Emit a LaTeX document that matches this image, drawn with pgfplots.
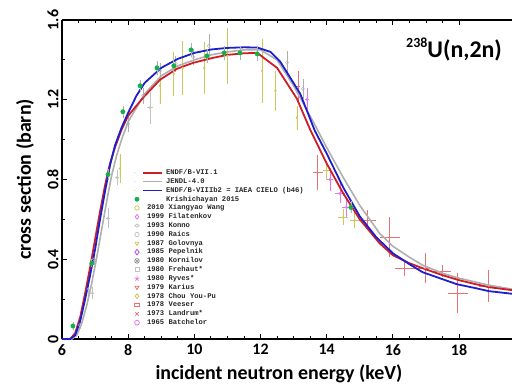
\documentclass[border=0pt]{standalone}
\usepackage{fontspec}
\setmainfont{Carlito}
\newfontfamily\legfont{Liberation Mono}
\usepackage{pgfplots}
\pgfplotsset{compat=1.18}
\usetikzlibrary{plotmarks}
\definecolor{cRed}{RGB}{205,30,40}
\definecolor{cBlue}{RGB}{30,30,205}
\definecolor{cGrey}{RGB}{175,175,175}
\definecolor{cGreen}{RGB}{20,175,70}
\definecolor{cOlive}{RGB}{205,200,90}
\definecolor{cPink}{RGB}{225,120,235}
\definecolor{cViolet}{RGB}{190,80,215}
\definecolor{cLRed}{RGB}{230,115,115}
\definecolor{cLGrey}{RGB}{195,195,195}
\pgfplotsset{
 marklegend/.style={legend image code/.code={\path[draw=none,fill=none] (-3bp,-4.41bp) rectangle (10bp,4.41bp); \draw[##1] plot coordinates {(0bp,0bp)};}},
 linelegend/.style={legend image code/.code={\path[draw=none,fill=none] (-3bp,-4.41bp) rectangle (10bp,4.41bp); \fill[black!25,draw=none] (-2bp,0bp) circle (0.5bp); \draw[overlay,##1] (6bp,0bp) -- (25bp,0bp);}},
}
\begin{document}
\begin{tikzpicture}
\begin{axis}[
 scale only axis, width=450bp, height=319bp,
 xmin=6, xmax=19.6, ymin=0, ymax=1.6,
 axis x line=box, axis y line=left, axis line style={-, line width=1.1bp},
 xtick={6,8,10,12,14,16,18}, minor x tick num=3,
 ytick={0,0.4,0.8,1.2,1.6}, yticklabels={0,0.4,0.8,1.2,1.6}, minor y tick num=1,
 tick align=inside, major tick length=5bp, minor tick length=3bp,
 tick style={black, line width=0.8bp},
 /pgf/number format/assume math mode=true,
 tick label style={font=\fontsize{16}{16}\selectfont\bfseries},
 xticklabel style={yshift=-2bp},
 yticklabel style={rotate=90, anchor=south},
 xlabel={incident neutron energy (keV)},
 ylabel={cross section (barn)},
 xlabel style={at={(rel axis cs:0.482,-0.1285)}, anchor=base, font=\fontsize{20}{20}\selectfont\bfseries},
 ylabel style={at={(rel axis cs:-0.0822,0.5)}, anchor=center, font=\fontsize{20}{20}\selectfont\bfseries},
 clip=true,
 marklegend,
 legend cell align=left,
 legend style={at={(rel axis cs:0.16,0.535)}, anchor=north west, draw=none, fill=none,
   inner sep=0pt, outer sep=0pt, row sep=0pt, column sep=0pt, nodes={inner sep=0pt, text=black!85},
   font=\legfont\bfseries\fontsize{7.2}{8}\selectfont},
]
% --- experimental data ---
\addplot[forget plot, only marks, mark=o, mark size=1.4bp, draw=cLGrey,
  error bars/.cd, y dir=both, y explicit, x dir=both, x explicit, error mark=none,
  error bar style={cLGrey, line width=0.7bp}]
  table[x=x, y=y, x error=ex, y error=ey] {
x y ex ey
6.54 0.07 0.06 0.02
6.79 0.25 0.06 0.03
6.92 0.23 0.06 0.03
7.39 0.605 0.06 0.05
7.67 0.81 0.06 0.04
8.66 1.16 0.1 0.08
};
\addplot[forget plot, only marks, mark=*, mark size=1.0bp, draw=cOlive, fill=cOlive,
  error bars/.cd, y dir=both, y explicit, x dir=both, x explicit, error mark=none,
  error bar style={cOlive, line width=0.8bp}]
  table[x=x, y=y, x error=ex, y error=ey] {
x y ex ey
7.75 0.855 0 0.075
8.96 1.27 0 0.09
9.38 1.33 0 0.11
9.65 1.36 0 0.135
10.3 1.36 0 0.13
11.0 1.42 0 0.14
12.05 1.345 0 0.16
12.45 1.245 0 0.1
13.1 1.11 0 0.06
14.0 0.845 0.1 0.05
14.5 0.61 0.15 0.04
14.85 0.595 0.15 0.04
};
\addplot[forget plot, only marks, mark=o, mark size=1.6bp, draw=cGrey,
  error bars/.cd, y dir=both, y explicit, x dir=both, x explicit, error mark=none,
  error bar style={cGrey, line width=0.7bp}]
  table[x=x, y=y, x error=ex, y error=ey] {
x y ex ey
6.97 0.40 0 0.03
8.0 1.08 0 0.04
8.45 1.22 0 0.04
8.96 1.345 0 0.04
9.44 1.38 0 0.04
9.96 1.415 0 0.04
10.44 1.47 0 0.06
12.8 1.385 0 0.06
13.28 1.255 0 0.05
};
\addplot[forget plot, only marks, mark=diamond, mark size=1.6bp, draw=cPink,
  error bars/.cd, y dir=both, y explicit, x dir=both, x explicit, error mark=none,
  error bar style={cPink, line width=0.7bp}]
  table[x=x, y=y, x error=ex, y error=ey] {
x y ex ey
13.4 1.2 0.05 0.06
14.1 0.80 0.1 0.06
14.4 0.73 0.15 0.05
14.6 0.66 0.15 0.05
};
\addplot[forget plot, only marks, mark=-, mark size=1.2bp, draw=cLRed,
  error bars/.cd, y dir=both, y explicit, x dir=both, x explicit, error mark=none,
  error bar style={cLRed, line width=0.7bp}]
  table[x=x, y=y, x error=ex, y error=ey] {
x y ex ey
13.15 1.27 0 0.075
13.73 0.835 0.15 0.09
15.24 0.595 0.25 0.05
15.9 0.51 0.3 0.1
16.36 0.355 0.3 0.04
16.97 0.355 0.2 0.075
17.5 0.34 0.25 0.03
17.96 0.23 0.3 0.1
18.9 0.265 0.3 0.08
};
% --- evaluations ---
\addplot[forget plot, cGrey, line width=1.6bp] coordinates {
(6.0,0) (6.3,0) (6.45,0.02) (6.6,0.08) (6.75,0.17) (6.9,0.28) (7.05,0.41) (7.2,0.55) (7.35,0.69) (7.5,0.82) (7.65,0.92) (7.8,1.0) (8.0,1.09) (8.5,1.23) (9.0,1.32) (9.5,1.37) (10.0,1.40) (10.5,1.425) (11,1.44) (11.5,1.45) (12.0,1.45) (12.5,1.40) (13.0,1.27) (13.64,1.075) (14.0,0.96) (14.5,0.81) (15.0,0.67) (15.6,0.53) (16.0,0.465) (16.5,0.41) (16.9,0.37) (17.5,0.33) (18.0,0.305) (18.9,0.27) (19.6,0.25)};
\addplot[forget plot, cRed, line width=1.8bp] coordinates {
(6.0,0) (6.25,0) (6.4,0.03) (6.55,0.11) (6.7,0.23) (6.85,0.36) (7.0,0.5) (7.15,0.64) (7.3,0.77) (7.45,0.88) (7.6,0.96) (7.8,1.05) (8.0,1.12) (8.2,1.16) (8.45,1.21) (8.96,1.3) (9.47,1.355) (9.96,1.385) (10.56,1.41) (11,1.425) (11.5,1.433) (11.9,1.435) (12.5,1.36) (13.1,1.205) (13.5,1.05) (14.0,0.88) (14.5,0.73) (15.0,0.6) (15.6,0.48) (16.0,0.42) (16.5,0.38) (16.9,0.355) (17.5,0.32) (18.0,0.295) (18.5,0.275) (18.9,0.26) (19.6,0.245)};
\addplot[forget plot, cBlue, line width=1.8bp] coordinates {
(6.0,0) (6.25,0) (6.4,0.02) (6.55,0.09) (6.7,0.2) (6.85,0.32) (7.0,0.45) (7.15,0.6) (7.3,0.74) (7.45,0.87) (7.6,0.97) (7.8,1.06) (8.0,1.135) (8.25,1.22) (8.5,1.285) (9.0,1.36) (9.5,1.405) (10.0,1.435) (10.5,1.452) (11,1.46) (11.5,1.463) (11.9,1.462) (12.3,1.44) (12.6,1.39) (13.2,1.23) (13.64,1.045) (14.0,0.93) (14.5,0.76) (15.0,0.615) (15.5,0.51) (16.0,0.43) (16.5,0.375) (16.9,0.335) (17.5,0.3) (17.93,0.275) (18.5,0.255) (18.9,0.24) (19.6,0.227)};
% --- Krishichayan 2015 ---
\addplot[forget plot, only marks, mark=*, mark size=2.2bp, draw=cGreen, fill=cGreen,
  error bars/.cd, y dir=both, y explicit, error mark=none,
  error bar style={cGrey, line width=0.7bp}]
  table[x=x, y=y, y error=ey] {
x y ey
6.33 0.065 0.02
6.9 0.38 0.02
7.39 0.825 0.03
7.84 1.14 0.03
8.36 1.27 0.03
8.87 1.36 0.035
9.38 1.37 0.035
9.9 1.45 0.035
10.38 1.42 0.035
10.9 1.435 0.035
11.38 1.435 0.035
11.9 1.43 0.035
14.73 0.66 0.03
};
% --- legend ---
\addlegendimage{linelegend, cRed, line width=1.6bp}
\addlegendentry{\hspace*{19bp}ENDF/B-VII.1}
\addlegendimage{linelegend, cGrey, line width=1.6bp}
\addlegendentry{\hspace*{19bp}JENDL-4.0}
\addlegendimage{linelegend, cBlue, line width=1.6bp}
\addlegendentry{\hspace*{19bp}ENDF/B-VIIIb2 = IAEA CIELO (b46)}
\addlegendimage{mark=*, mark size=2.2bp, draw=cGreen, fill=cGreen}
\addlegendentry{\hspace*{19bp}Krishichayan 2015}
\addlegendimage{mark=o, mark size=2.2bp, draw=cOlive, line width=0.8bp}
\addlegendentry{2010 Xiangyao Wang}
\addlegendimage{mark=diamond, mark size=2.4bp, draw=cPink, line width=0.8bp}
\addlegendentry{1999 Filatenkov}
\addlegendimage{mark=diamond, mark size=2.2bp, draw=cLGrey, line width=0.8bp, mark options={xscale=1.3, yscale=0.7}}
\addlegendentry{1993 Konno}
\addlegendimage{mark=o, mark size=2.2bp, draw=cLGrey, line width=0.8bp}
\addlegendentry{1990 Raics}
\addlegendimage{mark=triangle, mark size=2.2bp, draw=cOlive, line width=0.8bp, mark options={rotate=-60}}
\addlegendentry{1987 Golovnya}
\addlegendimage{mark=diamond, mark size=2.8bp, draw=cViolet, fill=cPink!30, line width=0.8bp}
\addlegendentry{1985 Pepelnik}
\addlegendimage{mark=otimes, mark size=2.4bp, draw=black!45, line width=0.6bp}
\addlegendentry{1980 Kornilov}
\addlegendimage{mark=square, mark size=2.0bp, draw=cLGrey, line width=0.6bp}
\addlegendentry{1980 Frehaut*}
\addlegendimage{mark=star, mark size=2.6bp, draw=cPink, line width=0.8bp}
\addlegendentry{1980 Ryves*}
\addlegendimage{mark=triangle, mark size=2.2bp, draw=cLRed, line width=0.8bp, mark options={rotate=180}}
\addlegendentry{1979 Karius}
\addlegendimage{mark=diamond, mark size=2.4bp, draw=cOlive, line width=0.8bp}
\addlegendentry{1978 Chou You-Pu}
\addlegendimage{mark=square, mark size=2.2bp, draw=cLRed, line width=0.8bp, mark options={xscale=1.3, yscale=0.6}}
\addlegendentry{1978 Veeser}
\addlegendimage{mark=x, mark size=2.4bp, draw=cLRed, line width=0.8bp}
\addlegendentry{1973 Landrum*}
\addlegendimage{mark=o, mark size=2.4bp, draw=cPink, line width=0.8bp}
\addlegendentry{1965 Batchelor}
\node[anchor=base east, inner sep=0pt] at (rel axis cs:0.978,0.884)
  {\fontsize{24}{24}\selectfont\bfseries\raisebox{10bp}{\fontsize{14}{14}\selectfont 238}U(n,2n)};
\coordinate (SW) at (rel axis cs:0,0);
\coordinate (NE) at (rel axis cs:1,1);
\end{axis}
\pgfresetboundingbox
\path[use as bounding box] ([xshift=-62bp,yshift=-46bp]SW) rectangle ([yshift=20bp]NE);
\end{tikzpicture}
\end{document}
